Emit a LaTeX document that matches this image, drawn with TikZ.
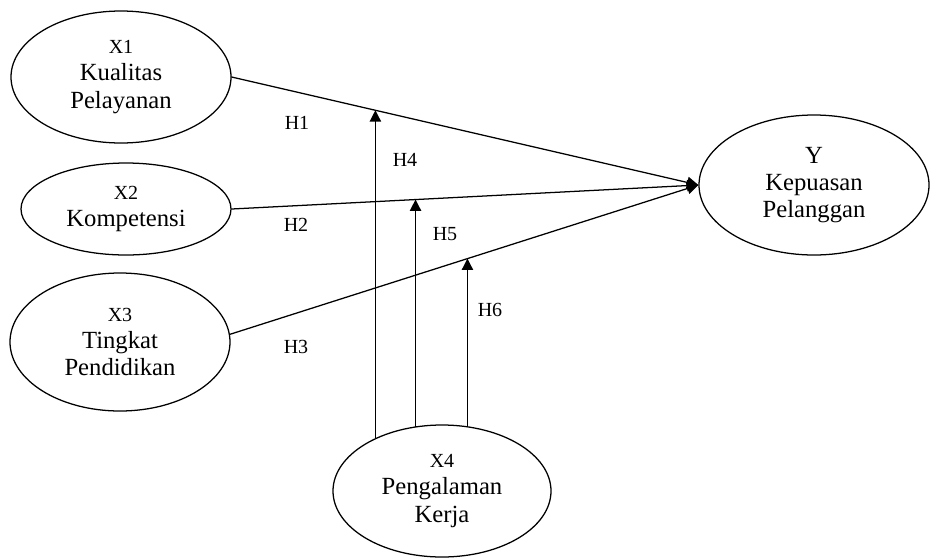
\documentclass[tikz,border=0pt]{standalone}
\usepackage{fontspec}
\setmainfont{Liberation Serif}
\usetikzlibrary{arrows.meta}
\usetikzlibrary{shapes.geometric}
\tikzset{
  varbl/.style={draw,ellipse,inner sep=0pt,align=center,font=\fontsize{18.5}{20.5}\selectfont},
  hlabel/.style={font=\fontsize{15}{17}\selectfont}
}
\newcommand{\varcode}[1]{{\fontsize{15}{20.5}\selectfont #1}}
\begin{document}
\begin{tikzpicture}[line cap=round,line join=round,>={Triangle[length=8.5pt,width=8.5pt]},x=0.75pt,y=-0.75pt,line width=0.95pt]
\useasboundingbox (0,0) rectangle (931,558);
\node[varbl,minimum width=165pt,minimum height=99pt] (x1) at (121,77) {\varcode{X1}\\Kualitas\\Pelayanan};
\node[varbl,minimum width=157.5pt,minimum height=69pt] (x2) at (126,209) {\varcode{X2}\\Kompetensi};
\node[varbl,minimum width=165pt,minimum height=103.5pt] (x3) at (120,342) {\varcode{X3}\\Tingkat\\Pendidikan};
\node[varbl,minimum width=172.5pt,minimum height=105pt] (y) at (814,185) {Y\\Kepuasan\\Pelanggan};
\node[varbl,minimum width=163.5pt,minimum height=99pt] (x4) at (442,491) {\varcode{X4}\\Pengalaman\\Kerja};
\draw [->] (x1.east) -- (y.west);
\draw [->] (x2.east) -- (y.west);
\draw [->] (x3.4) -- (y.west);
\path (x1.east) -- (y.west) coordinate[pos=0.308] (t4);
\path (x2.east) -- (y.west) coordinate[pos=0.394] (t5);
\path (x3.4) -- (y.west) coordinate[pos=0.507] (t6);
\draw [->] (t4 |- x4.142) -- (t4);
\draw [->] (t5 |- x4.113) -- (t5);
\draw [->] (t6 |- x4.68) -- (t6);
\node[hlabel] (h1) at (297,123) {H1};
\node[hlabel] (h2) at (296,225) {H2};
\node[hlabel] (h3) at (296,347) {H3};
\node[hlabel] (h4) at (405,160) {H4};
\node[hlabel] (h5) at (445,234) {H5};
\node[hlabel] (h6) at (490,310) {H6};
\end{tikzpicture}
\end{document}
